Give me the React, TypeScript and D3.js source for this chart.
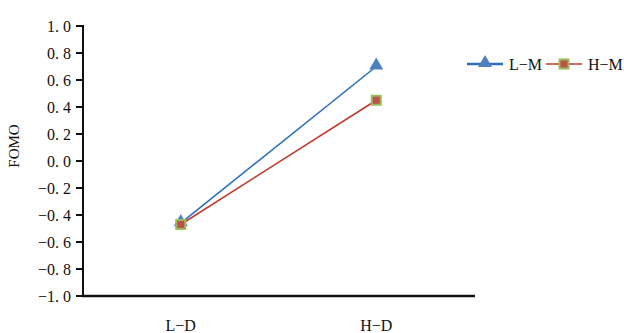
import React from "react";
import * as d3 from "d3";

const categories = ["L-D", "H-D"];
const seriesNames = ["L-M", "H-M"];
const lmValues = [-0.46, 0.7];
const hmValues = [-0.47, 0.45];
const yTicks = [1.0, 0.8, 0.6, 0.4, 0.2, 0.0, -0.2, -0.4, -0.6, -0.8, -1.0];

const W = 624;
const H = 333;
const FONT = "'Liberation Serif', 'DejaVu Serif', serif";

function fmt(v: number) {
  const s = Math.abs(v).toFixed(1).replace(".", ". ");
  return (v < -1e-9 ? "\u2212" : "") + s;
}

export default function App() {
  const x = d3.scaleBand<string>().domain(categories).range([83, 474]);
  const y = d3.scaleLinear().domain([-1, 1]).range([296, 26]);
  const cx = (c: string) => (x(c) as number) + x.bandwidth() / 2;
  const line = d3
    .line<number>()
    .x((_, i) => cx(categories[i]))
    .y((d) => y(d));

  const tri = d3.symbol().type(d3.symbolTriangle).size(85)();
  const sq = (px: number, py: number, k: string) => (
    <rect key={k} x={px - 4.5} y={py - 4.5} width={9} height={9} fill="#c0504d" stroke="#9bbb59" strokeWidth={2} />
  );

  return (
    <svg width={W} height={H} style={{ position: "absolute", left: 0, top: 0, background: "#fff" }}>
      <g fontFamily={FONT} fontSize={16} fill="#111">
        {yTicks.map((t) => (
          <g key={t}>
            <line x1={76} x2={83} y1={y(t)} y2={y(t)} stroke="#111" strokeWidth={2} />
            <text x={71} y={y(t)} dy="0.35em" textAnchor="end">
              {fmt(t)}
            </text>
          </g>
        ))}
        <line x1={83} x2={83} y1={y(1) - 1} y2={y(-1)} stroke="#111" strokeWidth={2} />
        <line x1={82} x2={475} y1={y(-1)} y2={y(-1)} stroke="#111" strokeWidth={2.5} />
        {categories.map((c) => (
          <text key={c} x={cx(c)} y={331} textAnchor="middle">
            {c.replace("-", "\u2212")}
          </text>
        ))}
        <text transform={`translate(19,146) rotate(-90)`} textAnchor="middle" fontSize={15}>
          FOMO
        </text>
      </g>
      <path d={line(lmValues) as string} fill="none" stroke="#2e6ebf" strokeWidth={1.6} />
      <path d={line(hmValues) as string} fill="none" stroke="#c0392b" strokeWidth={1.6} />
      {lmValues.map((v, i) => (
        <path key={"t" + i} d={tri as string} transform={`translate(${cx(categories[i])},${y(v) - 1})`} fill="#4f81bd" />
      ))}
      {hmValues.map((v, i) => sq(cx(categories[i]), y(v), "s" + i))}
      <g fontFamily={FONT} fontSize={16} fill="#111">
        <line x1={467} x2={503} y1={64} y2={64} stroke="#2e6ebf" strokeWidth={2.5} />
        <path d={tri as string} transform="translate(485,63)" fill="#4f81bd" />
        <text x={509} y={64} dy="0.35em">{seriesNames[0].replace("-", "\u2212")}</text>
        <line x1={546} x2={582} y1={64} y2={64} stroke="#c0392b" strokeWidth={1.6} />
        {sq(564, 64, "ls")}
        <text x={588} y={64} dy="0.35em">{seriesNames[1].replace("-", "\u2212")}</text>
      </g>
    </svg>
  );
}
